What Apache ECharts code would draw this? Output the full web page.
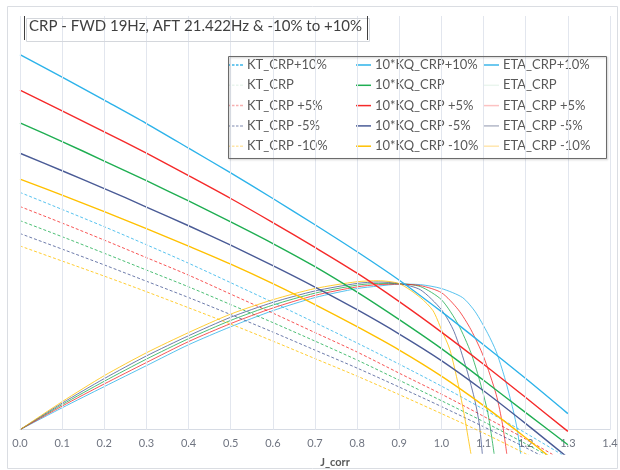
<!DOCTYPE html>
<html>
<head>
<meta charset="utf-8">
<script src="https://cdn.jsdelivr.net/npm/echarts@6/dist/echarts.min.js"></script>
<style>
  html, body { margin: 0; padding: 0; background: #ffffff; }
  #chart { width: 620px; height: 470px; }
</style>
</head>
<body>
<div id="chart"></div>
<script>
// Advance coefficient grid shared by the KT and 10*KQ curves
const jGrid = [0, 0.1, 0.2, 0.3, 0.4, 0.5, 0.6, 0.7, 0.8, 0.9, 1.0, 1.1, 1.2, 1.3];
const jTicks = ['0.0', '0.1', '0.2', '0.3', '0.4', '0.5', '0.6', '0.7', '0.8', '0.9', '1.0', '1.1', '1.2', '1.3', '1.4'];

// Thrust coefficient KT
const ktP10 = [0.975, 0.905, 0.834, 0.760, 0.684, 0.604, 0.523, 0.440, 0.356, 0.269, 0.179, 0.084, -0.014, -0.117];
const ktBase = [0.859, 0.793, 0.725, 0.656, 0.587, 0.514, 0.440, 0.364, 0.286, 0.203, 0.119, 0.033, -0.058, -0.152];
const ktP5 = [0.917, 0.849, 0.779, 0.707, 0.635, 0.557, 0.479, 0.399, 0.319, 0.232, 0.146, 0.055, -0.039, -0.138];
const ktM5 = [0.806, 0.742, 0.677, 0.610, 0.543, 0.473, 0.401, 0.327, 0.253, 0.175, 0.095, 0.012, -0.074, -0.164];
const ktM10 = [0.755, 0.693, 0.631, 0.567, 0.501, 0.434, 0.364, 0.292, 0.220, 0.144, 0.066, -0.014, -0.099, -0.185];

// Torque coefficient, 10*KQ
const kqP10 = [1.541, 1.449, 1.354, 1.258, 1.157, 1.055, 0.950, 0.842, 0.731, 0.614, 0.485, 0.349, 0.210, 0.066];
const kqBase = [1.261, 1.184, 1.104, 1.023, 0.940, 0.854, 0.765, 0.670, 0.565, 0.452, 0.333, 0.203, 0.070, -0.062];
const kqP5 = [1.395, 1.310, 1.224, 1.136, 1.044, 0.950, 0.851, 0.749, 0.643, 0.526, 0.401, 0.269, 0.132, -0.007];
const kqM5 = [1.136, 1.064, 0.991, 0.915, 0.838, 0.758, 0.674, 0.586, 0.493, 0.393, 0.284, 0.160, 0.025, -0.115];
const kqM10 = [1.030, 0.964, 0.896, 0.826, 0.754, 0.680, 0.600, 0.514, 0.423, 0.327, 0.220, 0.099, -0.033, -0.173];

// Open-water efficiency ETA (own J points, denser where the curve falls away)
const etaJP10 = [0, 0.1, 0.2, 0.3, 0.4, 0.5, 0.6, 0.7, 0.8, 0.85, 0.9, 0.95, 1.0, 1.05, 1.08, 1.11, 1.13, 1.15, 1.17, 1.18, 1.188];
const etaP10 = [0, 0.090, 0.177, 0.263, 0.349, 0.423, 0.489, 0.543, 0.580, 0.590, 0.598, 0.596, 0.580, 0.543, 0.485, 0.395, 0.321, 0.214, 0.082, 0.000, -0.099];
const etaJBase = [0, 0.1, 0.2, 0.3, 0.4, 0.5, 0.6, 0.7, 0.8, 0.85, 0.9, 0.95, 1.0, 1.04, 1.07, 1.09, 1.11, 1.125];
const etaBase = [0, 0.103, 0.199, 0.290, 0.374, 0.449, 0.512, 0.561, 0.594, 0.601, 0.600, 0.588, 0.534, 0.432, 0.316, 0.206, 0.070, -0.099];
const etaJP5 = [0, 0.1, 0.2, 0.3, 0.4, 0.5, 0.6, 0.7, 0.8, 0.85, 0.9, 0.95, 1.0, 1.04, 1.07, 1.1, 1.13, 1.145, 1.155];
const etaP5 = [0, 0.097, 0.188, 0.276, 0.362, 0.436, 0.500, 0.552, 0.587, 0.596, 0.598, 0.592, 0.563, 0.493, 0.411, 0.300, 0.144, 0.021, -0.099];
const etaJM5 = [0, 0.1, 0.2, 0.3, 0.4, 0.5, 0.6, 0.7, 0.8, 0.85, 0.9, 0.95, 1.0, 1.03, 1.06, 1.08, 1.09, 1.097];
const etaM5 = [0, 0.109, 0.210, 0.303, 0.386, 0.462, 0.523, 0.570, 0.601, 0.607, 0.600, 0.575, 0.493, 0.403, 0.247, 0.115, 0.021, -0.099];
const etaJM10 = [0, 0.1, 0.2, 0.3, 0.4, 0.5, 0.6, 0.7, 0.8, 0.85, 0.9, 0.95, 0.98, 1.0, 1.02, 1.04, 1.055, 1.063, 1.07];
const etaM10 = [0, 0.115, 0.222, 0.316, 0.399, 0.475, 0.534, 0.580, 0.608, 0.612, 0.600, 0.543, 0.489, 0.411, 0.329, 0.185, 0.053, -0.029, -0.099];

const FONT = 'Lato, "Open Sans", sans-serif';
const TEXT = '#595959';

// One entry per speed variant, in legend order
const variants = [
  { suffix: '+10%', color: '#2DB3EA', kt: ktP10,  kq: kqP10,  etaJ: etaJP10,  eta: etaP10,
    ktLegend: '#3DB6EA', etaLegend: '#3DB6EA' },
  { suffix: '',     color: '#1FAE52', kt: ktBase, kq: kqBase, etaJ: etaJBase, eta: etaBase,
    ktLegend: '#EAF5EE', etaLegend: '#EAF5EE' },
  { suffix: ' +5%', color: '#F52A2A', kt: ktP5,   kq: kqP5,   etaJ: etaJP5,   eta: etaP5,
    ktLegend: '#F7B0B0', etaLegend: '#FCC2C2' },
  { suffix: ' -5%', color: '#4A5B96', kt: ktM5,   kq: kqM5,   etaJ: etaJM5,   eta: etaM5,
    ktLegend: '#A9B1CA', etaLegend: '#B3B8C8' },
  { suffix: ' -10%', color: '#FFC000', kt: ktM10, kq: kqM10,  etaJ: etaJM10,  eta: etaM10,
    ktLegend: '#FFE6A8', etaLegend: '#FFE6AE' }
];

// legend keys: a short solid stroke and a short dashed stroke
const SOLID_KEY = 'path://M0,0h15v1.5h-15z';
const DASH_KEY = 'path://M0,0h2.5v1.5h-2.5zM4,0h2.5v1.5h-2.5zM8,0h2.5v1.5h-2.5zM12,0h3v1.5h-3z';

// y range of the plot; the J axis sits on the zero line
const Y_MIN = -0.1, Y_MAX = 1.7;
const GRID_TOP = 16, GRID_BOTTOM = 16, CHART_H = 470;
const plotH = CHART_H - GRID_TOP - GRID_BOTTOM;
const zeroOffset = -plotH * (0 - Y_MIN) / (Y_MAX - Y_MIN);

const zip = (xs, ys) => xs.map((x, i) => [x, ys[i]]);

const series = [];
// vertical gridlines from the axis line up to the top of the plot
series.push({
  name: 'grid', type: 'line', data: [], silent: true, z: 1,
  markLine: {
    silent: true, symbol: 'none', animation: false,
    label: { show: false },
    lineStyle: { color: '#E2E6EE', type: 'solid', width: 1 },
    data: jTicks.map(t => [{ coord: [Number(t), 0] }, { coord: [Number(t), Y_MAX] }])
  }
});

const ktLegend = [], kqLegend = [], etaLegend = [];
variants.forEach(v => {
  const ktName = 'KT_CRP' + v.suffix;
  const kqName = '10*KQ_CRP' + v.suffix;
  const etaName = 'ETA_CRP' + v.suffix;
  series.push({
    name: ktName, type: 'line', data: zip(jGrid, v.kt), showSymbol: false, symbol: 'none',
    smooth: 0.3, z: 3,
    lineStyle: { color: v.color, width: 1, type: [3, 2], opacity: 0.8 },
    itemStyle: { color: v.color }
  });
  series.push({
    name: kqName, type: 'line', data: zip(jGrid, v.kq), showSymbol: false, symbol: 'none',
    smooth: 0.3, z: 4,
    lineStyle: { color: v.color, width: 1.4 },
    itemStyle: { color: v.color }
  });
  series.push({
    name: etaName, type: 'line', data: zip(v.etaJ, v.eta), showSymbol: false, symbol: 'none',
    smooth: 0.25, z: 3,
    lineStyle: { color: v.color, width: 1, opacity: 0.8 },
    itemStyle: { color: v.color }
  });
  ktLegend.push({ name: ktName, icon: DASH_KEY, itemStyle: { color: v.ktLegend } });
  kqLegend.push({ name: kqName, icon: SOLID_KEY, itemStyle: { color: v.color } });
  etaLegend.push({ name: etaName, icon: SOLID_KEY, itemStyle: { color: v.etaLegend } });
});

const legendBase = {
  orient: 'vertical', top: 57, padding: 0, itemGap: 4.3, itemWidth: 15, itemHeight: 1.5,
  selectedMode: false,
  textStyle: { color: TEXT, fontSize: 13, fontFamily: FONT, lineHeight: 16, padding: [0, 0, 0, -1] }
};

const option = {
  animation: false,
  backgroundColor: '#ffffff',
  textStyle: { fontFamily: FONT },
  grid: { left: 20, right: 10, top: GRID_TOP, bottom: GRID_BOTTOM, containLabel: false, outerBoundsMode: 'none' },
  xAxis: {
    type: 'value', min: 0, max: 1.4, interval: 0.1,
    offset: zeroOffset,
    axisLine: { onZero: false, lineStyle: { color: '#D6DBE4', width: 1 } },
    axisTick: { show: false },
    splitLine: { show: false },
    axisLabel: {
      color: '#6F7480', fontSize: 11, fontFamily: FONT, margin: 8,
      formatter: v => jTicks[Math.round(v * 10)]
    },
    name: 'J_corr', nameLocation: 'middle', nameGap: 27,
    nameTextStyle: { color: TEXT, fontSize: 11, fontWeight: 'bold', fontFamily: FONT, padding: [0, 0, 0, 40] }
  },
  yAxis: {
    type: 'value', min: Y_MIN, max: Y_MAX, interval: 0.1,
    axisLine: { show: false }, axisTick: { show: false }, axisLabel: { show: false },
    splitLine: { show: false }
  },
  legend: [
    Object.assign({ id: 'legKT' }, legendBase, { left: 228, data: ktLegend }),
    Object.assign({ id: 'legKQ' }, legendBase, { left: 356, data: kqLegend }),
    Object.assign({ id: 'legETA' }, legendBase, { left: 484, data: etaLegend })
  ],
  graphic: [
    // outer chart frame
    { type: 'rect', left: 5, top: 4, z: 0, silent: true,
      shape: { width: 610, height: 462 }, style: { fill: 'none', stroke: '#DADDE2', lineWidth: 1 } },
    // legend frame
    { type: 'rect', left: 226, top: 54, z: 10, silent: true,
      shape: { width: 378, height: 102 },
      style: { fill: 'none', stroke: '#6B6B6B', lineWidth: 1, shadowBlur: 2, shadowColor: 'rgba(0,0,0,0.25)', shadowOffsetX: 1, shadowOffsetY: 1 } },
    // title box
    { type: 'rect', left: 24, top: 16, z: 10, silent: true,
      shape: { width: 343, height: 23 }, style: { fill: 'none', stroke: '#D4D7DC', lineWidth: 1 } },
    { type: 'line', z: 11, silent: true, shape: { x1: 24.5, y1: 16, x2: 24.5, y2: 40 }, style: { stroke: '#404040', lineWidth: 1 } },
    { type: 'line', z: 11, silent: true, shape: { x1: 367.5, y1: 16, x2: 367.5, y2: 40 }, style: { stroke: '#404040', lineWidth: 1 } },
    { type: 'text', left: 29, top: 19, z: 11, silent: true,
      style: { text: 'CRP - FWD 19Hz, AFT 21.422Hz & -10% to +10%', fill: '#404040', fontSize: 15, fontFamily: FONT } }
  ],
  series: series
};

const chart = echarts.init(document.getElementById('chart'), null, { renderer: 'canvas' });
chart.setOption(option);
</script>
</body>
</html>
